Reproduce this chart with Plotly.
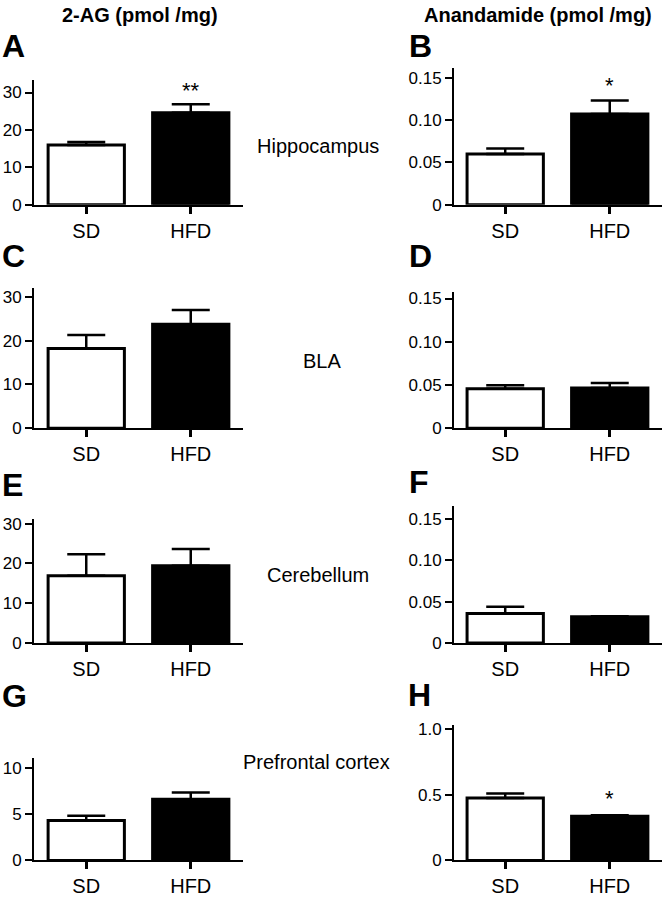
import plotly.graph_objects as go

# ---------------- data ----------------
categories = ["SD", "HFD"]

hippo_2ag = [16.0, 24.6]
hippo_2ag_err = [0.8, 2.3]
hippo_aea = [0.060, 0.107]
hippo_aea_err = [0.0065, 0.016]

bla_2ag = [18.2, 23.7]
bla_2ag_err = [3.1, 3.3]
bla_aea = [0.0458, 0.0466]
bla_aea_err = [0.004, 0.0057]

cereb_2ag = [16.9, 19.4]
cereb_2ag_err = [5.4, 4.2]
cereb_aea = [0.0358, 0.0318]
cereb_aea_err = [0.008, 0.0004]

pfc_2ag = [4.33, 6.6]
pfc_2ag_err = [0.5, 0.75]
pfc_aea = [0.477, 0.338]
pfc_aea_err = [0.035, 0.007]

tick_2ag = [0, 10, 20, 30]
tick_2ag_pfc = [0, 5, 10]
tick_aea = [0, 0.05, 0.10, 0.15]
tick_aea_pfc = [0, 0.5, 1.0]
tick_aea_text = ["0", "0.05", "0.10", "0.15"]
tick_aea_pfc_text = ["0", "0.5", "1.0"]

panel_letters = ["A", "B", "C", "D", "E", "F", "G", "H"]
regions = ["Hippocampus", "BLA", "Cerebellum", "Prefrontal cortex"]
column_titles = ["2-AG (pmol /mg)", "Anandamide (pmol /mg)"]

# significance marks
sig_panels = [0, 1, 7]
sig_text = ["**", "*", "*"]
sig_y = [30.6, 0.141, 0.474]

# ---------------- layout helpers ----------------
W, H = 662, 900
FONT = "Arial, Liberation Sans, Helvetica, sans-serif"

def px_x(x):
    return x / W

def px_y(y):
    return 1 - y / H

panels = [
    # values, errors, tickvals, ticktext, ymax, x-domain px, y-domain px (bottom, top)
    (hippo_2ag, hippo_2ag_err, tick_2ag, None, 33.4, (34, 243), (204, 77)),
    (hippo_aea, hippo_aea_err, tick_aea, tick_aea_text, 0.1613, (454, 662), (204, 65)),
    (bla_2ag, bla_2ag_err, tick_2ag, None, 32.1, (34, 243), (431, 288)),
    (bla_aea, bla_aea_err, tick_aea, tick_aea_text, 0.157, (454, 662), (431, 293)),
    (cereb_2ag, cereb_2ag_err, tick_2ag, None, 31.2, (34, 243), (649, 523)),
    (cereb_aea, cereb_aea_err, tick_aea, tick_aea_text, 0.1659, (454, 662), (649, 510)),
    (pfc_2ag, pfc_2ag_err, tick_2ag_pfc, None, 11.06, (34, 243), (870, 766)),
    (pfc_aea, pfc_aea_err, tick_aea_pfc, tick_aea_pfc_text, 1.037, (454, 662), (870, 732)),
]

fig = go.Figure()
layout = {}
annotations = []

for i, (vals, errs, tv, tt, ymax, xd, yd) in enumerate(panels):
    n = i + 1
    xa = "x" if n == 1 else f"x{n}"
    ya = "y" if n == 1 else f"y{n}"
    xkey = "xaxis" if n == 1 else f"xaxis{n}"
    ykey = "yaxis" if n == 1 else f"yaxis{n}"
    fig.add_trace(go.Bar(
        x=categories, y=vals,
        marker=dict(color=["white", "black"], line=dict(color="black", width=3)),
        width=0.73,
        error_y=dict(type="data", array=errs, arrayminus=[0, 0], symmetric=False,
                     color="black", thickness=2.5, width=19),
        xaxis=xa, yaxis=ya, showlegend=False,
    ))
    right = xd[1] >= W
    layout[xkey] = dict(
        domain=[px_x(xd[0]), px_x(xd[1])],
        anchor=ya,
        range=[-0.49, 1.50] if right else [-0.5, 1.5],
        showline=True, linecolor="black", linewidth=2,
        ticks="outside", ticklen=7, tickwidth=2.5, tickcolor="black",
        showgrid=False, zeroline=False,
        tickfont=dict(family=FONT, size=20, color="black"),
        fixedrange=True,
    )
    ydict = dict(
        domain=[px_y(yd[0]), px_y(yd[1])],
        anchor=xa,
        range=[0, ymax],
        showline=True, linecolor="black", linewidth=2,
        ticks="outside", ticklen=7, tickwidth=2, tickcolor="black",
        showgrid=False, zeroline=False,
        tickvals=tv,
        tickfont=dict(family=FONT, size=17, color="black"),
        fixedrange=True,
    )
    if tt is not None:
        ydict["ticktext"] = tt
    layout[ykey] = ydict

for k, p in enumerate(sig_panels):
    n = p + 1
    xa = "x" if n == 1 else f"x{n}"
    ya = "y" if n == 1 else f"y{n}"
    annotations.append(dict(
        x=categories[1], y=sig_y[k], xref=xa, yref=ya, text=sig_text[k],
        showarrow=False, font=dict(family=FONT, size=22, color="black"),
        xanchor="center", yanchor="middle",
    ))

# panel letters
letter_pos = [(0, 43), (407, 43), (0, 256), (407, 256), (0, 489), (407, 486), (0, 703), (406, 702)]
for letter, (lx, ly) in zip(panel_letters, letter_pos):
    annotations.append(dict(
        x=px_x(lx), y=px_y(ly), xref="paper", yref="paper", text=f"<b>{letter}</b>",
        showarrow=False, font=dict(family=FONT, size=32, color="black"),
        xanchor="left", yanchor="middle",
    ))

# region labels
region_pos = [(255, 144), (301, 363), (265, 580), (241, 770)]
for name, (rx, ry) in zip(regions, region_pos):
    annotations.append(dict(
        x=px_x(rx), y=px_y(ry), xref="paper", yref="paper", text=name,
        showarrow=False, font=dict(family=FONT, size=20, color="black"),
        xanchor="left", yanchor="middle",
    ))

# column titles
title_pos = [(139.5, 11), (537.5, 11)]
for t, (tx, ty) in zip(column_titles, title_pos):
    annotations.append(dict(
        x=px_x(tx), y=px_y(ty), xref="paper", yref="paper", text=f"<b>{t}</b>",
        showarrow=False, font=dict(family=FONT, size=20, color="black"),
        xanchor="center", yanchor="middle",
    ))

fig.update_layout(
    width=W, height=H,
    margin=dict(l=0, r=0, t=0, b=0),
    paper_bgcolor="white", plot_bgcolor="white",
    bargap=0.27,
    annotations=annotations,
    font=dict(family=FONT, color="black"),
    **layout,
)

fig.write_html(
    "out.html",
    config={"displayModeBar": False},
    post_script="document.body.style.margin='0';document.body.style.overflow='hidden';",
)
